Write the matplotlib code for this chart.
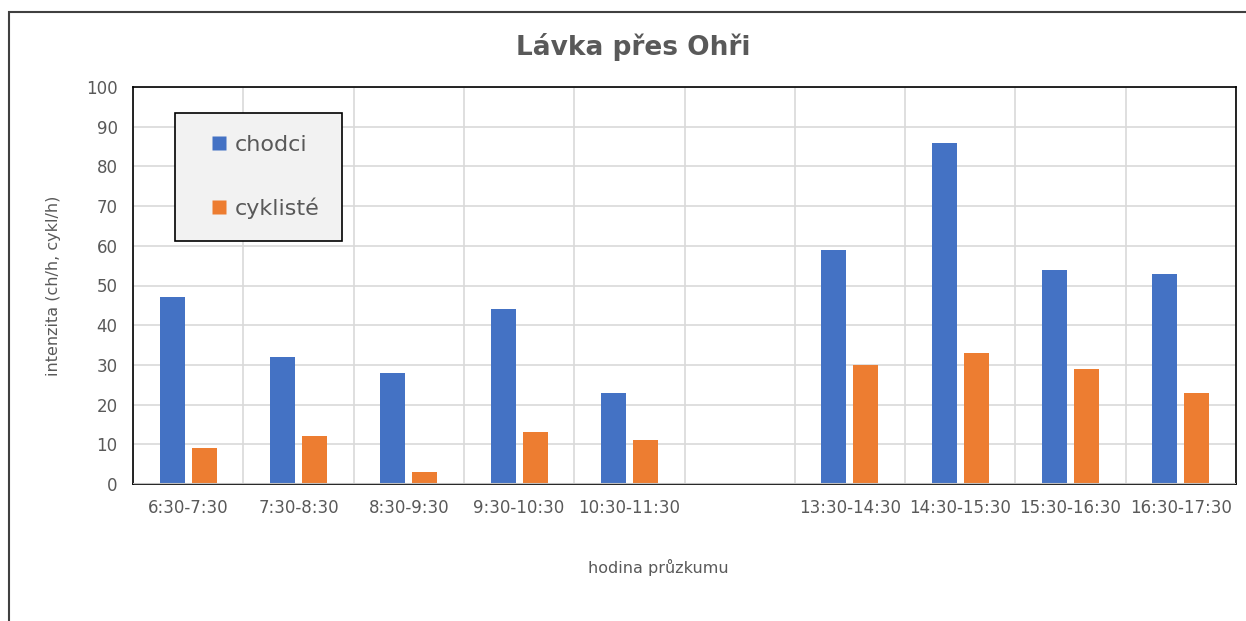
import numpy as np
import matplotlib
matplotlib.use("Agg")
import matplotlib.pyplot as plt
from matplotlib.patches import Rectangle
from matplotlib.lines import Line2D

# data
categories = ["6:30-7:30", "7:30-8:30", "8:30-9:30", "9:30-10:30", "10:30-11:30",
              "", "13:30-14:30", "14:30-15:30", "15:30-16:30", "16:30-17:30"]
chodci = [47, 32, 28, 44, 23, np.nan, 59, 86, 54, 53]
cykliste = [9, 12, 3, 13, 11, np.nan, 30, 33, 29, 23]

BLUE = "#4472c4"
ORANGE = "#ed7d31"
TXT = "#595959"

plt.rcParams["font.family"] = ["DejaVu Sans"]

fig = plt.figure(figsize=(12.46, 6.21), dpi=100)
ax = fig.add_axes([133 / 1246, 1 - 484 / 621, (1236 - 133) / 1246, (484 - 87) / 621])

x = np.arange(len(categories))
w = 0.227
off = 0.145
ax.bar(x - off, chodci, w, color=BLUE, label="chodci", zorder=3)
ax.bar(x + off, cykliste, w, color=ORANGE, label="cyklisté", zorder=3)

ax.set_xlim(-0.5, len(categories) - 0.5)
ax.set_ylim(0, 100)
ax.set_yticks(range(0, 101, 10))
ax.set_xticks(x)
ax.set_xticklabels(categories)
ax.set_xticks(np.arange(-0.5, len(categories), 1), minor=True)
ax.tick_params(which="both", length=0)
ax.tick_params(axis="both", labelsize=12, colors=TXT)
ax.tick_params(axis="y", pad=11)
ax.tick_params(axis="x", pad=11)
ax.grid(axis="y", color="#d9d9d9", lw=1.2, zorder=0)
ax.grid(axis="x", which="minor", color="#d9d9d9", lw=1.2, zorder=0)
ax.axhline(0, color="#bfbfbf", lw=1.5, zorder=4)
for s in ax.spines.values():
    s.set_color("black")
    s.set_linewidth(1.2)

ax.set_ylabel("intenzita (ch/h, cykl/h)", fontsize=11.5, color=TXT, labelpad=18)
ax.set_xlabel("hodina průzkumu", fontsize=11.5, color=TXT, labelpad=30)
ax.xaxis.set_label_coords((658 - 133) / 1103, -0.19)
fig.text(633 / 1246, 1 - 47 / 621, "Lávka přes Ohři", ha="center", va="center",
         fontsize=19, fontweight="bold", color=TXT)

handles = [Line2D([], [], ls="none", marker="s", ms=10, mec="none", mfc=BLUE),
           Line2D([], [], ls="none", marker="s", ms=10, mec="none", mfc=ORANGE)]
leg = ax.legend(handles, ["chodci", "cyklisté"], loc="upper left",
                bbox_to_anchor=((175 - 133) / 1103, 1 - (113 - 87) / 397),
                fontsize=16, frameon=True, fancybox=False, handlelength=2.0,
                handletextpad=-0.3, labelspacing=1.9, borderpad=1.0,
                borderaxespad=0, labelcolor=TXT)
leg.get_frame().set_facecolor("#f2f2f2")
leg.get_frame().set_edgecolor("black")
leg.get_frame().set_linewidth(1.2)
leg.get_frame().set_alpha(1)

# outer chart frame
fig.patches.append(Rectangle((9 / 1246, -0.05), 1.1, 1 - 12 / 621 + 0.05,
                             transform=fig.transFigure, fill=False,
                             edgecolor="#404040", lw=1.5))

fig.savefig("out.png", dpi=100)
